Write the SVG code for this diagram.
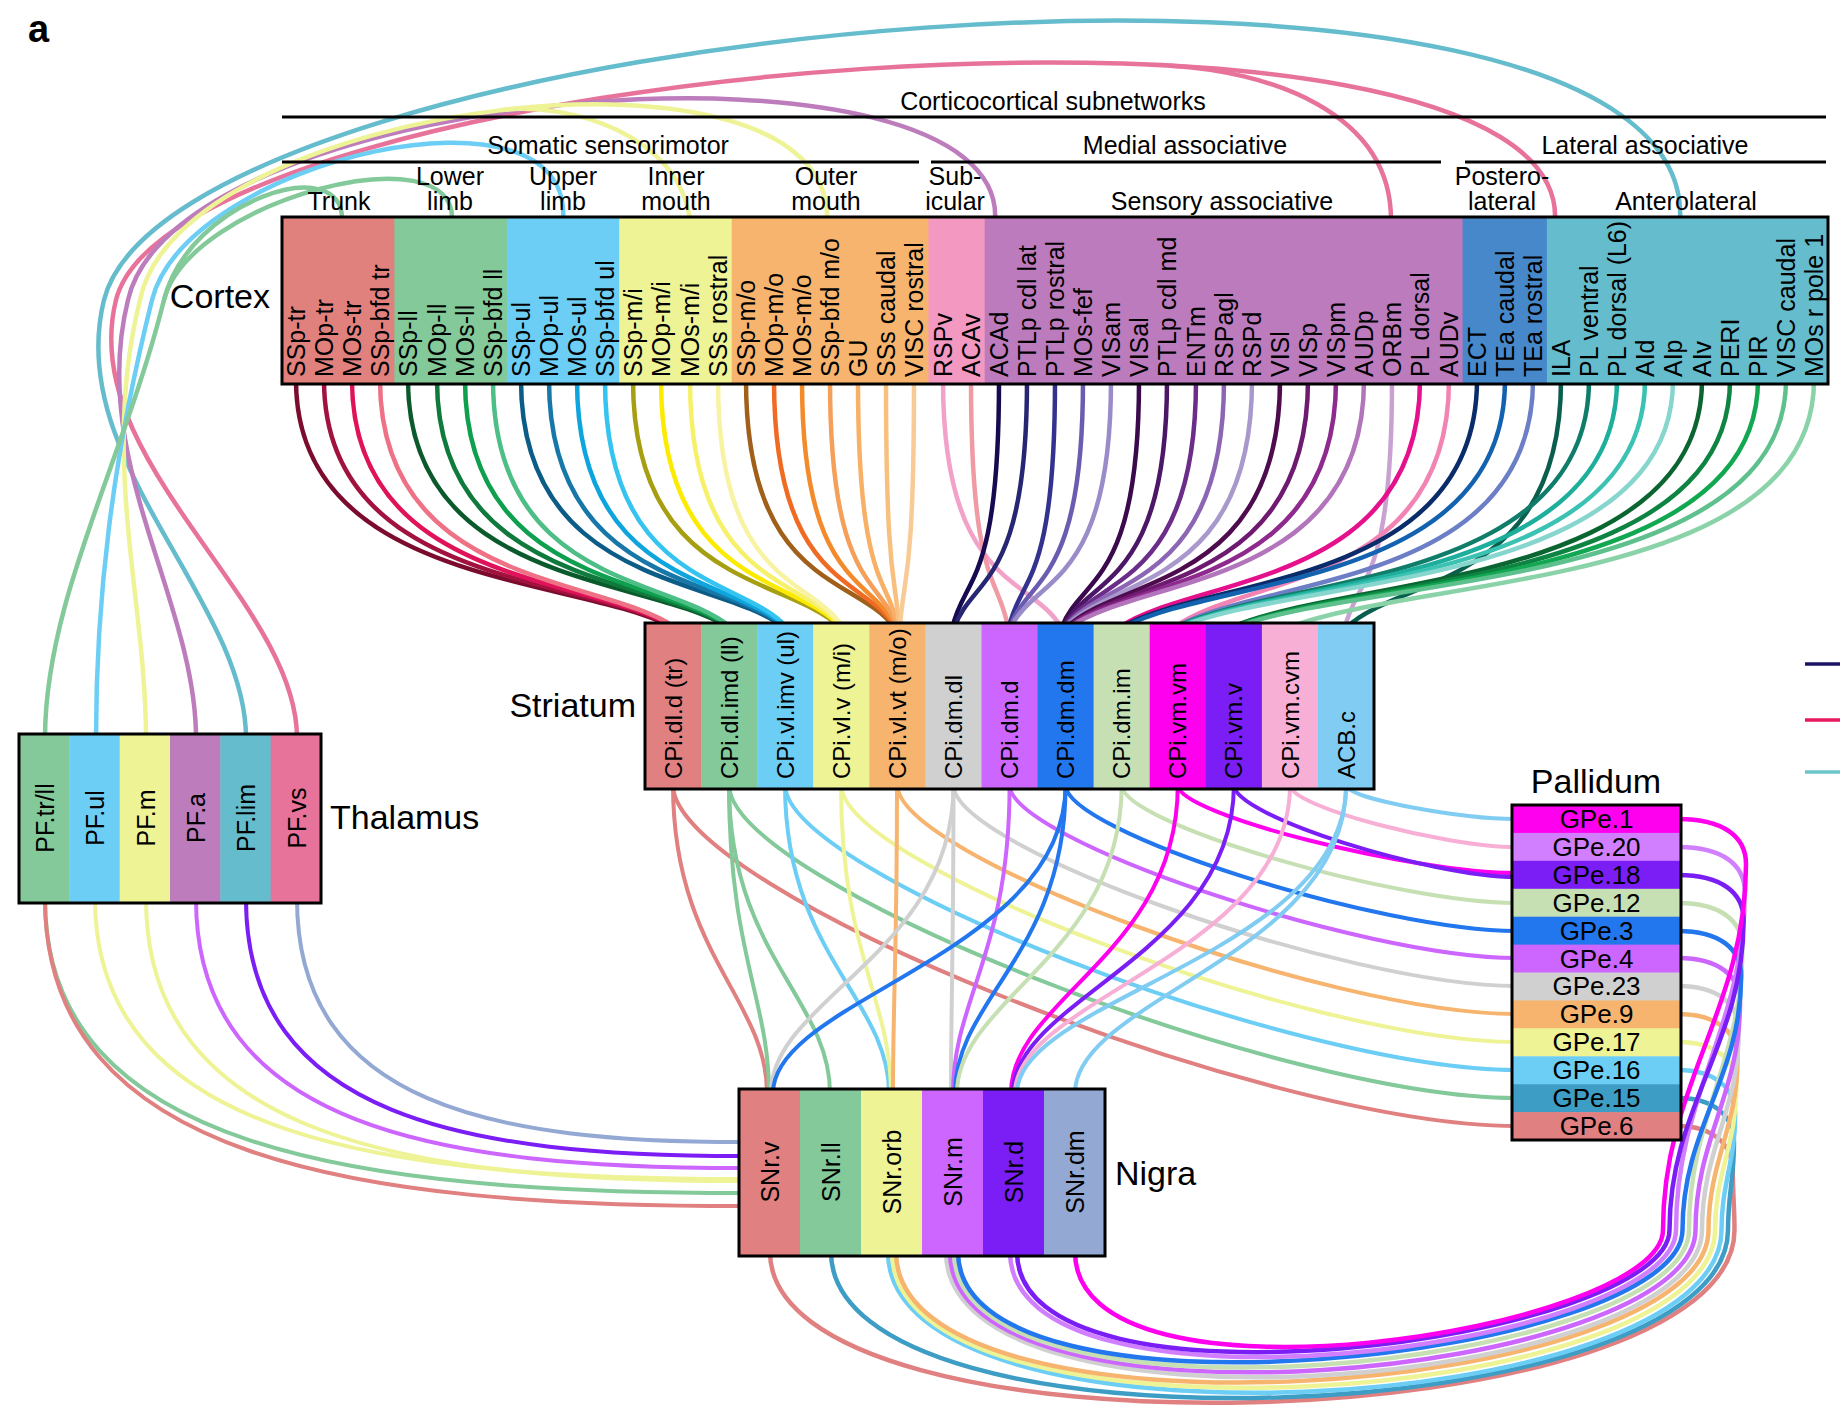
<svg xmlns="http://www.w3.org/2000/svg" width="1840" height="1414" viewBox="0 0 1840 1414">
<style>
text{font-family:"Liberation Sans",Arial,Helvetica,sans-serif;fill:#000}
.n{font-size:25px}
.s{font-size:24px}
.g{font-size:26px;text-anchor:middle}
.h{font-size:25px;text-anchor:middle}
.m{text-anchor:middle}
.big{font-size:34px}
.box{fill:none;stroke:#000;stroke-width:3}
.rule{stroke:#000;stroke-width:3}
.c{fill:none;stroke-width:4;stroke-linecap:round}
.cx{fill:none;stroke-width:4.5;stroke-linecap:round}
.a{fill:none;stroke-width:4.5;stroke-linecap:round}
</style>
<rect width="1840" height="1414" fill="#fff"/>
<text x="28" y="42" style="font-size:38px;font-weight:bold">a</text>

<g id="connectors">
 <g id="thalamus-cortex">
  <path class="a" stroke="#65BCCC" d="M246,738 C246,600 64,460 104,300 C174,20 1700,-120 1680,221"/>
  <path class="a" stroke="#E8739A" d="M297,738 C297,600 76,460 116,300 C176,60 1570,-50 1555,221"/>
  <path class="a" stroke="#E8739A" d="M1170.5,65.7 C1265,71 1392,110 1391,221"/>
  <path class="a" stroke="#BD7CBC" d="M196,738 C196,600 88,460 128,300 C178,80 1010,20 995,221"/>
  <path class="a" stroke="#EEF396" d="M146,738 C146,600 100,460 140,300 C180,100 835,20 827,221"/>
  <path class="a" stroke="#EEF396" d="M501.5,110 C570,102 680,135 690,221"/>
  <path class="a" stroke="#6DCEF5" d="M96,738 C96,600 112,460 152,300 C187,160 575,70 563,221"/>
  <path class="a" stroke="#83C99A" d="M45,738 C45,600 124,460 164,300 C189,200 458,130 452,221"/>
  <path class="a" stroke="#83C99A" d="M164,300 C189,200 345,150 342,221"/>
 </g>
 <g id="cortex-striatum">
  <path class="cx" stroke="#7B0C2E" d="M296,380 C296,587 578,576 671.5,627"/>
  <path class="cx" stroke="#A1123F" d="M324,380 C324,587 585,576 672.5,627"/>
  <path class="cx" stroke="#E0125A" d="M352,380 C352,587 593,576 673.5,627"/>
  <path class="cx" stroke="#EE7185" d="M380,380 C380,587 601,576 674.5,627"/>
  <path class="cx" stroke="#0B5A2C" d="M408,380 C408,587 648,576 727.5,627"/>
  <path class="cx" stroke="#0F7A3C" d="M437,380 C437,587 656,576 728.5,627"/>
  <path class="cx" stroke="#0E9F4F" d="M465,380 C465,587 663,576 729.5,627"/>
  <path class="cx" stroke="#4DBE86" d="M493,380 C493,587 671,576 730.5,627"/>
  <path class="cx" stroke="#0B5C86" d="M521,380 C521,587 718,576 783.5,627"/>
  <path class="cx" stroke="#1677A8" d="M549,380 C549,587 726,576 784.5,627"/>
  <path class="cx" stroke="#0EA5DE" d="M577,380 C577,587 733,576 785.5,627"/>
  <path class="cx" stroke="#35C3F0" d="M605,380 C605,587 741,576 786.5,627"/>
  <path class="cx" stroke="#A79F12" d="M633,380 C633,587 788,576 839.5,627"/>
  <path class="cx" stroke="#FCEB00" d="M661,380 C661,587 796,576 840.5,627"/>
  <path class="cx" stroke="#F7F06A" d="M690,380 C690,587 804,576 841.5,627"/>
  <path class="cx" stroke="#F8F3A2" d="M718,380 C718,587 811,576 842.5,627"/>
  <path class="cx" stroke="#A0601A" d="M746,380 C746,587 857,576 894,627"/>
  <path class="cx" stroke="#F06A24" d="M774,380 C774,587 865,576 895,627"/>
  <path class="cx" stroke="#F38B2C" d="M802,380 C802,587 872,576 896,627"/>
  <path class="cx" stroke="#F5A05A" d="M830,380 C830,587 880,576 897,627"/>
  <path class="cx" stroke="#F8B066" d="M858,380 C858,587 888,576 898,627"/>
  <path class="cx" stroke="#F8C07E" d="M886,380 C886,587 896,576 899,627"/>
  <path class="cx" stroke="#F8CB96" d="M914,380 C914,587 903,576 900,627"/>
  <path class="cx" stroke="#F2A2C8" d="M943,380 C943,587 1031,576 1061,627"/>
  <path class="cx" stroke="#F09AA4" d="M971,380 C971,587 999,576 1008,627"/>
  <path class="cx" stroke="#180A50" d="M999,380 C999,587 964,576 952.5,627"/>
  <path class="cx" stroke="#262672" d="M1027,380 C1027,587 973,576 954.5,627"/>
  <path class="cx" stroke="#33338F" d="M1055,380 C1055,587 1020,576 1009,627"/>
  <path class="cx" stroke="#6A5CB0" d="M1083,380 C1083,587 1028,576 1010,627"/>
  <path class="cx" stroke="#9A8CC8" d="M1111,380 C1111,587 1036,576 1011,627"/>
  <path class="cx" stroke="#3A0A4C" d="M1139,380 C1139,587 1081,576 1062,627"/>
  <path class="cx" stroke="#4B1766" d="M1167,380 C1167,587 1089,576 1063,627"/>
  <path class="cx" stroke="#6B2C8A" d="M1196,380 C1196,587 1097,576 1064,627"/>
  <path class="cx" stroke="#8C66B4" d="M1224,380 C1224,587 1105,576 1065,627"/>
  <path class="cx" stroke="#A898CC" d="M1252,380 C1252,587 1112,576 1066,627"/>
  <path class="cx" stroke="#4E0B4E" d="M1280,380 C1280,587 1120,576 1067,627"/>
  <path class="cx" stroke="#6E1A70" d="M1308,380 C1308,587 1128,576 1068,627"/>
  <path class="cx" stroke="#8E2A8E" d="M1336,380 C1336,587 1136,576 1069,627"/>
  <path class="cx" stroke="#B274BA" d="M1364,380 C1364,587 1143,576 1070,627"/>
  <path class="cx" stroke="#C9A2D2" d="M1392,380 C1392,587 1357,576 1345,627"/>
  <path class="cx" stroke="#E5108C" d="M1420,380 C1420,587 1195,576 1120,627"/>
  <path class="cx" stroke="#F284B4" d="M1449,380 C1449,587 1243,576 1175,627"/>
  <path class="cx" stroke="#0B2C6A" d="M1477,380 C1477,587 1211,576 1122,627"/>
  <path class="cx" stroke="#1262B0" d="M1505,380 C1505,587 1219,576 1124,627"/>
  <path class="cx" stroke="#6C7EC6" d="M1533,380 C1533,587 1265,576 1176,627"/>
  <path class="cx" stroke="#0A5E4E" d="M1561,380 C1561,587 1400,576 1347,627"/>
  <path class="cx" stroke="#0F7D6A" d="M1589,380 C1589,587 1280,576 1177,627"/>
  <path class="cx" stroke="#1EAE9C" d="M1617,380 C1617,587 1288,576 1178,627"/>
  <path class="cx" stroke="#3CC2B2" d="M1645,380 C1645,587 1295,576 1179,627"/>
  <path class="cx" stroke="#86D6CE" d="M1673,380 C1673,587 1303,576 1180,627"/>
  <path class="cx" stroke="#0A6530" d="M1702,380 C1702,587 1349,576 1232,627"/>
  <path class="cx" stroke="#0E8442" d="M1730,380 C1730,587 1357,576 1233,627"/>
  <path class="cx" stroke="#12A852" d="M1758,380 C1758,587 1366,576 1235,627"/>
  <path class="cx" stroke="#5EC08C" d="M1786,380 C1786,587 1373,576 1236,627"/>
  <path class="cx" stroke="#8AD3A8" d="M1814,380 C1814,587 1421,576 1290,627"/>
 </g>
 <g id="striatum-pallidum">
  <path class="c" stroke="#80CCF2" d="M1346.1,785 C1346.1,799 1463,819 1516,819"/>
  <path class="c" stroke="#F7AFD6" d="M1290,785 C1290,807 1446,847 1516,847"/>
  <path class="c" stroke="#FF00EE" d="M1177.8,785 C1177.8,815 1414,873 1516,873"/>
  <path class="c" stroke="#7B1EF5" d="M1233.9,785 C1233.9,816 1431,877 1516,877"/>
  <path class="c" stroke="#C6E0B4" d="M1121.7,785 C1121.7,824 1397,903 1516,903"/>
  <path class="c" stroke="#2277EE" d="M1065.6,785 C1065.6,832 1381,931 1516,931"/>
  <path class="c" stroke="#CD66FF" d="M1009.6,785 C1009.6,840 1364,958 1516,958"/>
  <path class="c" stroke="#D0D0D0" d="M953.5,785 C953.5,849 1348,986 1516,986"/>
  <path class="c" stroke="#F6B46E" d="M897.4,785 C897.4,857 1330,1014 1516,1014"/>
  <path class="c" stroke="#EEF396" d="M841.3,785 C841.3,866 1314,1042 1516,1042"/>
  <path class="c" stroke="#6DCEF5" d="M785.2,785 C785.2,874 1297,1070 1516,1070"/>
  <path class="c" stroke="#83C99A" d="M729.1,785 C729.1,882 1280,1098 1516,1098"/>
  <path class="c" stroke="#E08080" d="M673,785 C673,891 1263,1126 1516,1126"/>
 </g>
 <g id="striatum-nigra">
  <path class="c" stroke="#E08080" d="M673,785 C673,954 767,999 767,1093"/>
  <path class="c" stroke="#83C99A" d="M729,785 C729,954 769,999 769,1093"/>
  <path class="c" stroke="#83C99A" d="M729,785 C729,954 830,999 830,1093"/>
  <path class="c" stroke="#6DCEF5" d="M785,785 C785,954 889,999 889,1093"/>
  <path class="c" stroke="#EEF396" d="M841,785 C841,954 891,999 891,1093"/>
  <path class="c" stroke="#F6B46E" d="M897,785 C897,954 893,999 893,1093"/>
  <path class="c" stroke="#D0D0D0" d="M953.5,785 C953.5,954 771,999 771,1093"/>
  <path class="c" stroke="#D0D0D0" d="M953.5,785 C953.5,954 951,999 951,1093"/>
  <path class="c" stroke="#CD66FF" d="M1009.6,785 C1009.6,954 953,999 953,1093"/>
  <path class="c" stroke="#2277EE" d="M1065.6,785 C1065.6,954 773,999 773,1093"/>
  <path class="c" stroke="#2277EE" d="M1065.6,785 C1065.6,954 955,999 955,1093"/>
  <path class="c" stroke="#C6E0B4" d="M1121.7,785 C1121.7,954 957,999 957,1093"/>
  <path class="c" stroke="#FF00EE" d="M1177.8,785 C1177.8,954 1011,999 1011,1093"/>
  <path class="c" stroke="#7B1EF5" d="M1233.9,785 C1233.9,954 1013,999 1013,1093"/>
  <path class="c" stroke="#F7AFD6" d="M1290,785 C1290,954 1015,999 1015,1093"/>
  <path class="c" stroke="#80CCF2" d="M1346.1,785 C1346.1,954 1017,999 1017,1093"/>
  <path class="c" stroke="#80CCF2" d="M1346.1,785 C1346.1,954 1075,999 1075,1093"/>
 </g>
 <g id="thalamus-nigra">
  <path class="c" stroke="#94A8D4" d="M297,899 C297,1106 496,1142 743,1142"/>
  <path class="c" stroke="#7B1EF5" d="M246,899 C246,1118 468,1156 743,1156"/>
  <path class="c" stroke="#CD66FF" d="M196,899 C196,1128 440,1168 743,1168"/>
  <path class="c" stroke="#EEF396" d="M146,899 C146,1139 413,1181 743,1181"/>
  <path class="c" stroke="#EEF396" d="M95,899 C95,1138 385,1179 743,1179"/>
  <path class="c" stroke="#83C99A" d="M45,899 C45,1150 357,1193 743,1193"/>
  <path class="c" stroke="#E08080" d="M45,899 C45,1161 357,1206 743,1206"/>
 </g>
 <g id="pallidum-nigra">
  <path class="a" stroke="#E08080" d="M1678,1126 C1712,1126 1732.8,1144 1732.8,1171 C1732.8,1195 1734.5,1206 1734.5,1230 C1734.5,1443 770,1469 770,1252"/>
  <path class="a" stroke="#3E9DC4" d="M1678,1098 C1714,1098 1734,1116 1734,1143 C1734,1178 1728,1195 1728,1230 C1728,1432 831,1467 831,1252"/>
  <path class="a" stroke="#6DCEF5" d="M1678,1070 C1715,1070 1735.2,1088 1735.2,1115 C1735.2,1161 1721.5,1184 1721.5,1230 C1721.5,1420 888,1464 888,1252"/>
  <path class="a" stroke="#EEF396" d="M1678,1042 C1716,1042 1736.4,1060 1736.4,1087 C1736.4,1144 1715,1173 1715,1230 C1715,1409 892,1461 892,1252"/>
  <path class="a" stroke="#F6B46E" d="M1678,1014 C1717,1014 1737.6,1032 1737.6,1059 C1737.6,1127 1708.5,1162 1708.5,1230 C1708.5,1398 896,1457 896,1252"/>
  <path class="a" stroke="#D0D0D0" d="M1678,986 C1718,986 1738.8,1004 1738.8,1031 C1738.8,1111 1702,1150 1702,1230 C1702,1387 946,1453 946,1252"/>
  <path class="a" stroke="#CD66FF" d="M1678,958 C1719,958 1740,976 1740,1003 C1740,1094 1695.5,1139 1695.5,1230 C1695.5,1377 950,1449 950,1252"/>
  <path class="a" stroke="#C6E0B4" d="M1678,903 C1721,903 1742.4,921 1742.4,948 C1742.4,1061 1689,1117 1689,1230 C1689,1367 954,1445 954,1252"/>
  <path class="a" stroke="#2277EE" d="M1678,931 C1720,931 1741.2,949 1741.2,976 C1741.2,1078 1682.5,1128 1682.5,1230 C1682.5,1357 958,1440 958,1252"/>
  <path class="a" stroke="#D17FFF" d="M1678,847 C1723,847 1744.8,865 1744.8,892 C1744.8,1027 1676,1095 1676,1230 C1676,1348 1010,1434 1010,1252"/>
  <path class="a" stroke="#7B1EF5" d="M1678,875 C1722,875 1743.6,893 1743.6,920 C1743.6,1044 1669.5,1106 1669.5,1230 C1669.5,1339 1017,1429 1017,1252"/>
  <path class="a" stroke="#FF00EE" d="M1678,819 C1724,819 1746,837 1746,864 C1746,1010 1663,1084 1663,1230 C1663,1330 1075,1423 1075,1252"/>
 </g>
 <g id="legend-stubs">
  <line x1="1805" y1="664" x2="1840" y2="664" stroke="#1B1464" stroke-width="3.5"/>
  <line x1="1805" y1="720" x2="1840" y2="720" stroke="#E8175D" stroke-width="3.5"/>
  <line x1="1805" y1="772" x2="1840" y2="772" stroke="#6CC5C8" stroke-width="3.5"/>
 </g>
</g>

<g id="cortex-headers">
 <text class="h" x="1053" y="110">Corticocortical subnetworks</text>
 <line class="rule" x1="282" y1="117" x2="1826" y2="117"/>
 <text class="h" x="608" y="154">Somatic sensorimotor</text>
 <text class="h" x="1185" y="154">Medial associative</text>
 <text class="h" x="1645" y="154">Lateral associative</text>
 <line class="rule" x1="282" y1="162" x2="919" y2="162"/>
 <line class="rule" x1="931" y1="162" x2="1441" y2="162"/>
 <line class="rule" x1="1465" y1="162" x2="1826" y2="162"/>
 <text class="h" x="339" y="210">Trunk</text>
 <text class="h" x="450" y="185">Lower</text><text class="h" x="450" y="210">limb</text>
 <text class="h" x="563" y="185">Upper</text><text class="h" x="563" y="210">limb</text>
 <text class="h" x="676" y="185">Inner</text><text class="h" x="676" y="210">mouth</text>
 <text class="h" x="826" y="185">Outer</text><text class="h" x="826" y="210">mouth</text>
 <text class="h" x="955" y="185">Sub-</text><text class="h" x="955" y="210">icular</text>
 <text class="h" x="1222" y="210">Sensory associative</text>
 <text class="h" x="1502" y="185">Postero-</text><text class="h" x="1502" y="210">lateral</text>
 <text class="h" x="1686" y="210">Anterolateral</text>
</g>

<g id="cortex">
 <rect x="282" y="217" width="113" height="167" fill="#E1817E"/>
 <rect x="394.4" y="217" width="113" height="167" fill="#83C99A"/>
 <rect x="506.9" y="217" width="113" height="167" fill="#6DCEF5"/>
 <rect x="619.3" y="217" width="113" height="167" fill="#EEF396"/>
 <rect x="731.7" y="217" width="197.3" height="167" fill="#F6B46E"/>
 <rect x="928.5" y="217" width="56.7" height="167" fill="#F298C1"/>
 <rect x="984.7" y="217" width="478.4" height="167" fill="#BC7BBC"/>
 <rect x="1462.6" y="217" width="84.8" height="167" fill="#4788CA"/>
 <rect x="1546.9" y="217" width="281.1" height="167" fill="#65BCCC"/>
 <rect class="box" x="282" y="217" width="1546" height="167"/>
 <text class="big" x="270" y="308" text-anchor="end">Cortex</text>
 <g class="n">
  <text x="305" y="377" transform="rotate(-90 305 377)">SSp-tr</text>
  <text x="333" y="377" transform="rotate(-90 333 377)">MOp-tr</text>
  <text x="361" y="377" transform="rotate(-90 361 377)">MOs-tr</text>
  <text x="389" y="377" transform="rotate(-90 389 377)">SSp-bfd tr</text>
  <text x="417" y="377" transform="rotate(-90 417 377)">SSp-ll</text>
  <text x="446" y="377" transform="rotate(-90 446 377)">MOp-ll</text>
  <text x="474" y="377" transform="rotate(-90 474 377)">MOs-ll</text>
  <text x="502" y="377" transform="rotate(-90 502 377)">SSp-bfd ll</text>
  <text x="530" y="377" transform="rotate(-90 530 377)">SSp-ul</text>
  <text x="558" y="377" transform="rotate(-90 558 377)">MOp-ul</text>
  <text x="586" y="377" transform="rotate(-90 586 377)">MOs-ul</text>
  <text x="614" y="377" transform="rotate(-90 614 377)">SSp-bfd ul</text>
  <text x="642" y="377" transform="rotate(-90 642 377)">SSp-m/i</text>
  <text x="670" y="377" transform="rotate(-90 670 377)">MOp-m/i</text>
  <text x="699" y="377" transform="rotate(-90 699 377)">MOs-m/i</text>
  <text x="727" y="377" transform="rotate(-90 727 377)">SSs rostral</text>
  <text x="755" y="377" transform="rotate(-90 755 377)">SSp-m/o</text>
  <text x="783" y="377" transform="rotate(-90 783 377)">MOp-m/o</text>
  <text x="811" y="377" transform="rotate(-90 811 377)">MOs-m/o</text>
  <text x="839" y="377" transform="rotate(-90 839 377)">SSp-bfd m/o</text>
  <text x="867" y="377" transform="rotate(-90 867 377)">GU</text>
  <text x="895" y="377" transform="rotate(-90 895 377)">SSs caudal</text>
  <text x="923" y="377" transform="rotate(-90 923 377)">VISC rostral</text>
  <text x="952" y="377" transform="rotate(-90 952 377)">RSPv</text>
  <text x="980" y="377" transform="rotate(-90 980 377)">ACAv</text>
  <text x="1008" y="377" transform="rotate(-90 1008 377)">ACAd</text>
  <text x="1036" y="377" transform="rotate(-90 1036 377)">PTLp cdl lat</text>
  <text x="1064" y="377" transform="rotate(-90 1064 377)">PTLp rostral</text>
  <text x="1092" y="377" transform="rotate(-90 1092 377)">MOs-fef</text>
  <text x="1120" y="377" transform="rotate(-90 1120 377)">VISam</text>
  <text x="1148" y="377" transform="rotate(-90 1148 377)">VISal</text>
  <text x="1176" y="377" transform="rotate(-90 1176 377)">PTLp cdl md</text>
  <text x="1205" y="377" transform="rotate(-90 1205 377)">ENTm</text>
  <text x="1233" y="377" transform="rotate(-90 1233 377)">RSPagl</text>
  <text x="1261" y="377" transform="rotate(-90 1261 377)">RSPd</text>
  <text x="1289" y="377" transform="rotate(-90 1289 377)">VISl</text>
  <text x="1317" y="377" transform="rotate(-90 1317 377)">VISp</text>
  <text x="1345" y="377" transform="rotate(-90 1345 377)">VISpm</text>
  <text x="1373" y="377" transform="rotate(-90 1373 377)">AUDp</text>
  <text x="1401" y="377" transform="rotate(-90 1401 377)">ORBm</text>
  <text x="1429" y="377" transform="rotate(-90 1429 377)">PL dorsal</text>
  <text x="1458" y="377" transform="rotate(-90 1458 377)">AUDv</text>
  <text x="1486" y="377" transform="rotate(-90 1486 377)">ECT</text>
  <text x="1514" y="377" transform="rotate(-90 1514 377)">TEa caudal</text>
  <text x="1542" y="377" transform="rotate(-90 1542 377)">TEa rostral</text>
  <text x="1570" y="377" transform="rotate(-90 1570 377)">ILA</text>
  <text x="1598" y="377" transform="rotate(-90 1598 377)">PL ventral</text>
  <text x="1626" y="377" transform="rotate(-90 1626 377)">PL dorsal (L6)</text>
  <text x="1654" y="377" transform="rotate(-90 1654 377)">AId</text>
  <text x="1682" y="377" transform="rotate(-90 1682 377)">AIp</text>
  <text x="1711" y="377" transform="rotate(-90 1711 377)">AIv</text>
  <text x="1739" y="377" transform="rotate(-90 1739 377)">PERI</text>
  <text x="1767" y="377" transform="rotate(-90 1767 377)">PIR</text>
  <text x="1795" y="377" transform="rotate(-90 1795 377)">VISC caudal</text>
  <text x="1823" y="377" transform="rotate(-90 1823 377)">MOs r pole 1</text>
 </g>
</g>

<g id="striatum">
 <rect x="645" y="623" width="56.6" height="166" fill="#E08080"/>
 <rect x="701.1" y="623" width="56.6" height="166" fill="#83C99A"/>
 <rect x="757.2" y="623" width="56.6" height="166" fill="#6DCEF5"/>
 <rect x="813.2" y="623" width="56.6" height="166" fill="#EEF396"/>
 <rect x="869.3" y="623" width="56.6" height="166" fill="#F6B46E"/>
 <rect x="925.4" y="623" width="56.6" height="166" fill="#D0D0D0"/>
 <rect x="981.5" y="623" width="56.6" height="166" fill="#CD66FF"/>
 <rect x="1037.6" y="623" width="56.6" height="166" fill="#2277EE"/>
 <rect x="1093.6" y="623" width="56.6" height="166" fill="#C6E0B4"/>
 <rect x="1149.7" y="623" width="56.6" height="166" fill="#FF00EE"/>
 <rect x="1205.8" y="623" width="56.6" height="166" fill="#7B1EF5"/>
 <rect x="1261.9" y="623" width="56.6" height="166" fill="#F7AFD6"/>
 <rect x="1318" y="623" width="56" height="166" fill="#80CCF2"/>
 <rect class="box" x="645" y="623" width="729" height="166"/>
 <text class="big" x="636" y="717" text-anchor="end">Striatum</text>
 <g class="s">
  <text x="681.5" y="779" transform="rotate(-90 681.5 779)">CPi.dl.d (tr)</text>
  <text x="737.6" y="779" transform="rotate(-90 737.6 779)">CPi.dl.imd (ll)</text>
  <text x="793.7" y="779" transform="rotate(-90 793.7 779)">CPi.vl.imv (ul)</text>
  <text x="849.8" y="779" transform="rotate(-90 849.8 779)">CPi.vl.v (m/i)</text>
  <text x="905.9" y="779" transform="rotate(-90 905.9 779)">CPi.vl.vt (m/o)</text>
  <text x="962" y="779" transform="rotate(-90 962 779)">CPi.dm.dl</text>
  <text x="1018.1" y="779" transform="rotate(-90 1018.1 779)">CPi.dm.d</text>
  <text x="1074.1" y="779" transform="rotate(-90 1074.1 779)">CPi.dm.dm</text>
  <text x="1130.2" y="779" transform="rotate(-90 1130.2 779)">CPi.dm.im</text>
  <text x="1186.3" y="779" transform="rotate(-90 1186.3 779)">CPi.vm.vm</text>
  <text x="1242.4" y="779" transform="rotate(-90 1242.4 779)">CPi.vm.v</text>
  <text x="1298.5" y="779" transform="rotate(-90 1298.5 779)">CPi.vm.cvm</text>
  <text x="1354.6" y="779" transform="rotate(-90 1354.6 779)">ACB.c</text>
 </g>
</g>

<g id="thalamus">
 <rect x="19" y="734" width="50.8" height="169" fill="#83C99A"/>
 <rect x="69.3" y="734" width="50.8" height="169" fill="#6DCEF5"/>
 <rect x="119.7" y="734" width="50.8" height="169" fill="#EEF396"/>
 <rect x="170" y="734" width="50.8" height="169" fill="#BD7CBC"/>
 <rect x="220.3" y="734" width="50.8" height="169" fill="#65BCCC"/>
 <rect x="270.7" y="734" width="50.3" height="169" fill="#E8739A"/>
 <rect class="box" x="19" y="734" width="302" height="169"/>
 <g class="n m">
  <text x="53.7" y="818" transform="rotate(-90 53.7 818)">PF.tr/ll</text>
  <text x="104.1" y="818" transform="rotate(-90 104.1 818)">PF.ul</text>
  <text x="154.5" y="818" transform="rotate(-90 154.5 818)">PF.m</text>
  <text x="204.9" y="818" transform="rotate(-90 204.9 818)">PF.a</text>
  <text x="255.3" y="818" transform="rotate(-90 255.3 818)">PF.lim</text>
  <text x="305.7" y="818" transform="rotate(-90 305.7 818)">PF.vs</text>
 </g>
 <text class="big" x="330" y="829">Thalamus</text>
</g>

<g id="nigra">
 <rect x="739" y="1089" width="61.5" height="167" fill="#E08080"/>
 <rect x="800" y="1089" width="61.5" height="167" fill="#83C99A"/>
 <rect x="861" y="1089" width="61.5" height="167" fill="#EEF396"/>
 <rect x="922" y="1089" width="61.5" height="167" fill="#CD66FF"/>
 <rect x="983" y="1089" width="61.5" height="167" fill="#7B1EF5"/>
 <rect x="1044" y="1089" width="61" height="167" fill="#94A8D4"/>
 <rect class="box" x="739" y="1089" width="366" height="167"/>
 <g class="n m">
  <text x="778.5" y="1172" transform="rotate(-90 778.5 1172)">SNr.v</text>
  <text x="839.5" y="1172" transform="rotate(-90 839.5 1172)">SNr.ll</text>
  <text x="900.5" y="1172" transform="rotate(-90 900.5 1172)">SNr.orb</text>
  <text x="961.5" y="1172" transform="rotate(-90 961.5 1172)">SNr.m</text>
  <text x="1022.5" y="1172" transform="rotate(-90 1022.5 1172)">SNr.d</text>
  <text x="1083.5" y="1172" transform="rotate(-90 1083.5 1172)">SNr.dm</text>
 </g>
 <text class="big" x="1115" y="1185">Nigra</text>
</g>

<g id="pallidum">
 <text class="big m" x="1596" y="793">Pallidum</text>
 <rect x="1512" y="805" width="169" height="28.4" fill="#FF00EE"/>
 <rect x="1512" y="832.9" width="169" height="28.4" fill="#D17FFF"/>
 <rect x="1512" y="860.8" width="169" height="28.4" fill="#7B1EF5"/>
 <rect x="1512" y="888.8" width="169" height="28.4" fill="#C6E0B4"/>
 <rect x="1512" y="916.7" width="169" height="28.4" fill="#2277EE"/>
 <rect x="1512" y="944.6" width="169" height="28.4" fill="#CD66FF"/>
 <rect x="1512" y="972.5" width="169" height="28.4" fill="#D0D0D0"/>
 <rect x="1512" y="1000.4" width="169" height="28.4" fill="#F6B46E"/>
 <rect x="1512" y="1028.3" width="169" height="28.4" fill="#EEF396"/>
 <rect x="1512" y="1056.3" width="169" height="28.4" fill="#6DCEF5"/>
 <rect x="1512" y="1084.2" width="169" height="28.4" fill="#3E9DC4"/>
 <rect x="1512" y="1112.1" width="169" height="27.9" fill="#E08080"/>
 <rect class="box" x="1512" y="805" width="169" height="335"/>
 <text class="g" x="1596.5" y="828">GPe.1</text>
 <text class="g" x="1596.5" y="856">GPe.20</text>
 <text class="g" x="1596.5" y="884">GPe.18</text>
 <text class="g" x="1596.5" y="912">GPe.12</text>
 <text class="g" x="1596.5" y="940">GPe.3</text>
 <text class="g" x="1596.5" y="968">GPe.4</text>
 <text class="g" x="1596.5" y="995">GPe.23</text>
 <text class="g" x="1596.5" y="1023">GPe.9</text>
 <text class="g" x="1596.5" y="1051">GPe.17</text>
 <text class="g" x="1596.5" y="1079">GPe.16</text>
 <text class="g" x="1596.5" y="1107">GPe.15</text>
 <text class="g" x="1596.5" y="1135">GPe.6</text>
</g>
</svg>
